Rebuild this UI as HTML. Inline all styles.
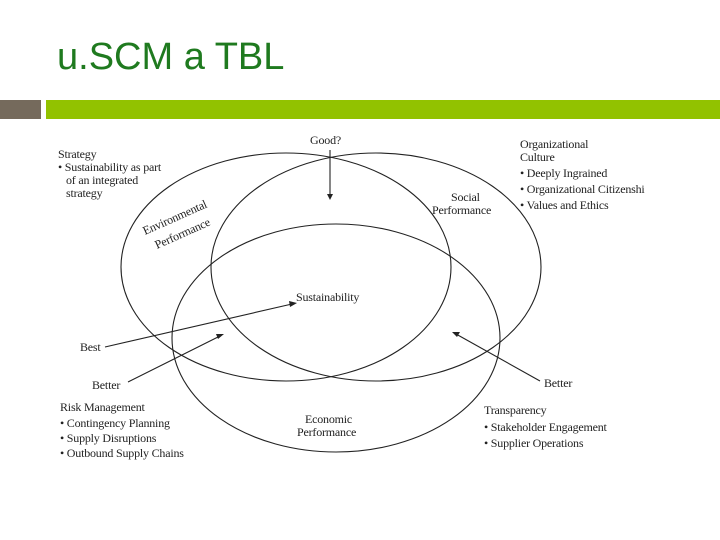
<!DOCTYPE html>
<html><head><style>
body{margin:0;width:720px;height:540px;background:#fff;position:relative;overflow:hidden;font-family:"Liberation Serif",serif}
.t{position:absolute;left:57px;top:36px;font-family:"Liberation Sans",sans-serif;font-size:38px;color:#1f7a1f}
</style></head><body>
<div class="t">u.SCM a TBL</div>
<div style="position:absolute;left:0;top:100px;width:41px;height:19px;background:#756a5c"></div>
<div style="position:absolute;left:46px;top:100px;width:674px;height:19px;background:#92c200"></div>
<svg width="720" height="540" style="position:absolute;left:0;top:0" font-family="Liberation Serif, serif" font-size="12" letter-spacing="-0.2" fill="#222">
<g fill="none" stroke="#222" stroke-width="1.1">
<ellipse cx="286" cy="267" rx="165" ry="114"/>
<ellipse cx="376" cy="267" rx="165" ry="114"/>
<ellipse cx="336" cy="338" rx="164" ry="114"/>
<line x1="330" y1="150" x2="330" y2="195"/>
<line x1="105" y1="347" x2="292" y2="304"/>
<line x1="128" y1="382" x2="220" y2="336"/>
<line x1="540" y1="381" x2="456" y2="334"/>
</g>
<g fill="#222">
<polygon points="327,194 333,194 330,200"/>
<polygon points="297,303 289,301 290,307"/>
<polygon points="224,334 216,334 218,339"/>
<polygon points="452,332 460,332 457,337"/>
</g>
<text x="310" y="144">Good?</text>
<text x="58" y="158">Strategy</text>
<text x="58" y="171">• Sustainability as part</text>
<text x="66" y="184">of an integrated</text>
<text x="66" y="197">strategy</text>
<text x="520" y="148">Organizational</text>
<text x="520" y="161">Culture</text>
<text x="520" y="177">• Deeply Ingrained</text>
<text x="520" y="193">• Organizational Citizenshi</text>
<text x="520" y="209">• Values and Ethics</text>
<text x="451" y="201">Social</text>
<text x="432" y="214">Performance</text>
<text x="145" y="235" transform="rotate(-24 145 235)">Environmental</text>
<text x="157" y="249" transform="rotate(-24 157 249)">Performance</text>
<text x="296" y="301">Sustainability</text>
<text x="80" y="351">Best</text>
<text x="92" y="389">Better</text>
<text x="544" y="387">Better</text>
<text x="60" y="411">Risk Management</text>
<text x="60" y="427">• Contingency Planning</text>
<text x="60" y="442">• Supply Disruptions</text>
<text x="60" y="457">• Outbound Supply Chains</text>
<text x="305" y="423">Economic</text>
<text x="297" y="436">Performance</text>
<text x="484" y="414">Transparency</text>
<text x="484" y="431">• Stakeholder Engagement</text>
<text x="484" y="447">• Supplier Operations</text>
</svg>
</body></html>
